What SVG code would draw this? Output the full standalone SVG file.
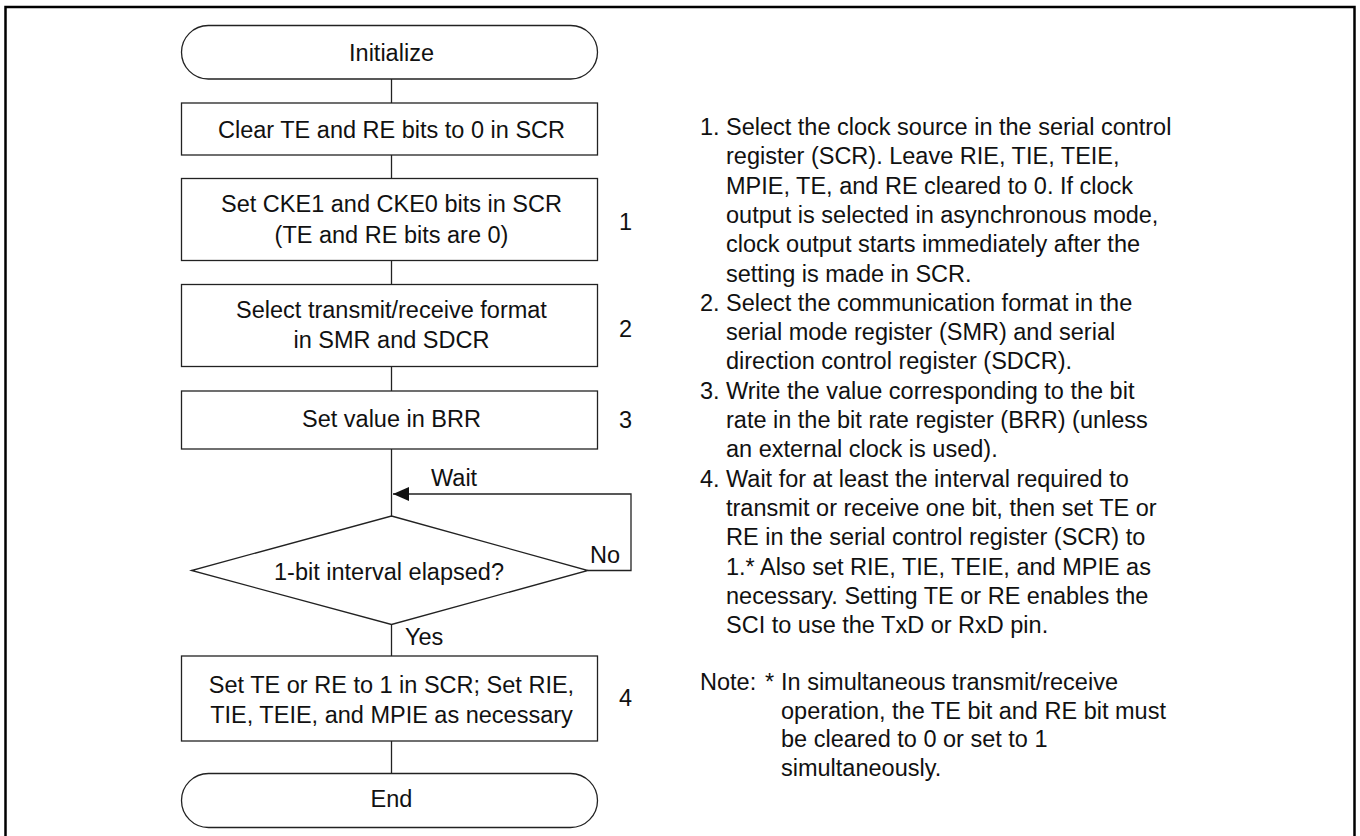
<svg xmlns="http://www.w3.org/2000/svg" width="1360" height="836" viewBox="0 0 1360 836">
<defs>
<style>
text{font-family:"Liberation Sans",Arial,sans-serif;font-size:23.5px;fill:#111}
.c{text-anchor:middle}
.shape{fill:#fff;stroke:#222;stroke-width:1.3}
.ln{fill:none;stroke:#222;stroke-width:1.3}
</style>
<marker id="ah" markerWidth="16" markerHeight="14" refX="16" refY="7" orient="auto" markerUnits="userSpaceOnUse">
<path d="M0,0 L16,7 L0,14 Z" fill="#111"/>
</marker>
</defs>
<rect x="0" y="0" width="1360" height="836" fill="#fff"/>
<path d="M5.5,840 V7 H1354.5 V840" fill="none" stroke="#000" stroke-width="2.5"/>

<g id="connectors">
<line class="ln" x1="391.5" y1="79" x2="391.5" y2="103"/>
<line class="ln" x1="391.5" y1="155" x2="391.5" y2="178"/>
<line class="ln" x1="391.5" y1="261" x2="391.5" y2="284"/>
<line class="ln" x1="391.5" y1="367" x2="391.5" y2="391"/>
<line class="ln" x1="391.5" y1="449" x2="391.5" y2="516"/>
<polyline class="ln" points="588,570.5 631,570.5 631,494 393,494" marker-end="url(#ah)"/>
<line class="ln" x1="391.5" y1="624" x2="391.5" y2="656"/>
<line class="ln" x1="391.5" y1="741" x2="391.5" y2="773"/>
<text x="431" y="486">Wait</text>
<text x="590" y="563">No</text>
<text x="405" y="645">Yes</text>
</g>

<g id="n-init">
<rect class="shape" x="181.5" y="25.5" width="416" height="53.5" rx="26.75"/>
<text class="c" x="391.5" y="61">Initialize</text>
</g>
<g id="n-clear">
<rect class="shape" x="181.5" y="103" width="416" height="52"/>
<text class="c" x="391.5" y="138">Clear TE and RE bits to 0 in SCR</text>
</g>
<g id="n-cke">
<rect class="shape" x="181.5" y="178.5" width="416" height="82"/>
<text class="c" x="391.5" y="212">Set CKE1 and CKE0 bits in SCR</text>
<text class="c" x="391.5" y="243">(TE and RE bits are 0)</text>
<text x="619" y="230">1</text>
</g>
<g id="n-format">
<rect class="shape" x="181.5" y="284.5" width="416" height="82"/>
<text class="c" x="391.5" y="318">Select transmit/receive format</text>
<text class="c" x="391.5" y="348">in SMR and SDCR</text>
<text x="619" y="337">2</text>
</g>
<g id="n-brr">
<rect class="shape" x="181.5" y="391" width="416" height="58"/>
<text class="c" x="391.5" y="427">Set value in BRR</text>
<text x="619" y="428">3</text>
</g>
<g id="n-decision">
<polygon class="shape" points="391.5,516 588,570.5 391.5,624.5 191.5,570.5"/>
<text class="c" x="389" y="580">1-bit interval elapsed?</text>
</g>
<g id="n-set">
<rect class="shape" x="181.5" y="656" width="416" height="85"/>
<text class="c" x="391.5" y="693">Set TE or RE to 1 in SCR; Set RIE,</text>
<text class="c" x="391.5" y="723">TIE, TEIE, and MPIE as necessary</text>
<text x="619" y="706">4</text>
</g>
<g id="n-end">
<rect class="shape" x="181.5" y="773.5" width="416" height="54" rx="27"/>
<text class="c" x="391.5" y="807">End</text>
</g>

<g id="notes">
<text x="700" y="135">1.</text>
<text x="726" y="135">Select the clock source in the serial control</text>
<text x="726" y="164.3">register (SCR). Leave RIE, TIE, TEIE,</text>
<text x="726" y="193.6">MPIE, TE, and RE cleared to 0. If clock</text>
<text x="726" y="222.9">output is selected in asynchronous mode,</text>
<text x="726" y="252.2">clock output starts immediately after the</text>
<text x="726" y="281.5">setting is made in SCR.</text>
<text x="700" y="310.8">2.</text>
<text x="726" y="310.8">Select the communication format in the</text>
<text x="726" y="340.1">serial mode register (SMR) and serial</text>
<text x="726" y="369.4">direction control register (SDCR).</text>
<text x="700" y="398.7">3.</text>
<text x="726" y="398.7">Write the value corresponding to the bit</text>
<text x="726" y="428">rate in the bit rate register (BRR) (unless</text>
<text x="726" y="457.3">an external clock is used).</text>
<text x="700" y="486.6">4.</text>
<text x="726" y="486.6">Wait for at least the interval required to</text>
<text x="726" y="515.9">transmit or receive one bit, then set TE or</text>
<text x="726" y="545.2">RE in the serial control register (SCR) to</text>
<text x="726" y="574.5">1.* Also set RIE, TIE, TEIE, and MPIE as</text>
<text x="726" y="603.8">necessary. Setting TE or RE enables the</text>
<text x="726" y="633.1">SCI to use the TxD or RxD pin.</text>
<text x="700" y="690">Note:</text>
<text x="765" y="690">*</text>
<text x="781" y="690">In simultaneous transmit/receive</text>
<text x="781" y="718.5">operation, the TE bit and RE bit must</text>
<text x="781" y="747">be cleared to 0 or set to 1</text>
<text x="781" y="775.5">simultaneously.</text>
</g>
</svg>
